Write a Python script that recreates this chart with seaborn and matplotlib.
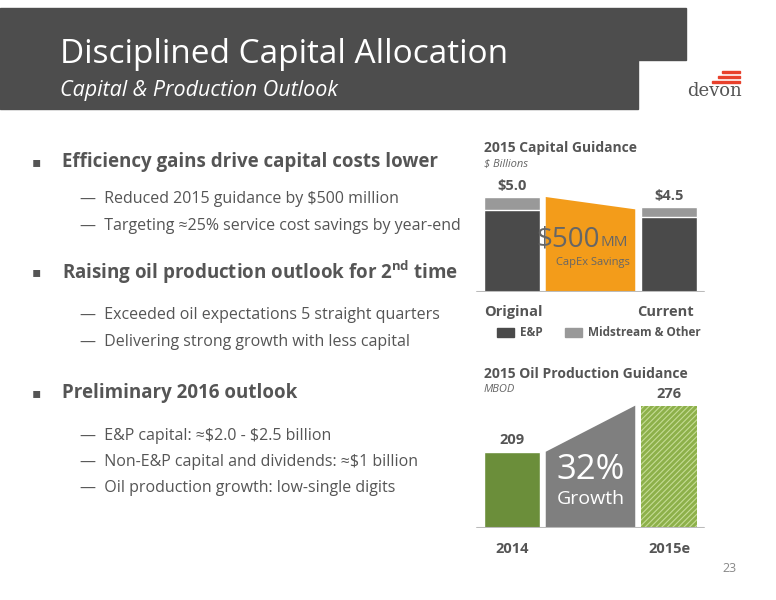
import matplotlib
matplotlib.use("Agg")
import matplotlib.pyplot as plt
import seaborn as sns
import pandas as pd
from matplotlib.patches import Rectangle, Polygon

sns.set_theme(style="white")
plt.rcParams['font.family'] = ['Open Sans', 'DejaVu Sans']
plt.rcParams['hatch.linewidth'] = 0.8

# Data
cap_cats = ["Original", "Current"]
cap_ep = [4.3, 3.95]
cap_mid = [0.7, 0.55]
cap_labels = ["$5.0", "$4.5"]
prod_cats = ["2014", "2015e"]
prod_vals = [209, 276]

DARK = "#4d4d4d"
W, H = 776, 600
fig = plt.figure(figsize=(7.76, 6.0), dpi=100)

def fx(px): return px / W
def fy(py): return 1 - py / H

# Header band
fig.patches.append(Rectangle((0, fy(60)), fx(686), fy(8) - fy(60), transform=fig.transFigure, color=DARK, zorder=0))
fig.patches.append(Rectangle((0, fy(109)), fx(638), fy(60) - fy(109), transform=fig.transFigure, color=DARK, zorder=0))
fig.text(fx(60), fy(63), "Disciplined Capital Allocation", color="white", fontsize=24, va="baseline")
fig.text(fx(60), fy(96), "Capital & Production Outlook", color="white", fontsize=15.5, style="italic", va="baseline")
# logo
fig.text(fx(714), fy(96), "devon", color="#555555", fontsize=13, family="DejaVu Serif", ha="center", va="baseline")
for (y0, x0) in [(71, 722), (76, 718), (81, 712)]:
    fig.patches.append(Rectangle((fx(x0), fy(y0 + 2)), fx(740 - x0), fy(y0) - fy(y0 + 2), transform=fig.transFigure, color="#e8412c"))

# Bullets
TXT = "#555555"
def bullet(y, s):
    fig.text(fx(32), fy(y), "▪", color=TXT, fontsize=10, va="center", family="DejaVu Sans")
    fig.text(fx(62), fy(y), s, color=TXT, fontsize=13.5, fontweight="bold", va="center")
def sub(y, s):
    fig.text(fx(80), fy(y), "—  " + s, color=TXT, fontsize=11.5, va="center")
bullet(162, "Efficiency gains drive capital costs lower")
sub(199, "Reduced 2015 guidance by \\$500 million")
sub(226, "Targeting ≈25% service cost savings by year-end")
bullet(272, r"Raising oil production outlook for 2$^{\mathregular{nd}}$ time")
sub(315, "Exceeded oil expectations 5 straight quarters")
sub(342, "Delivering strong growth with less capital")
bullet(393, "Preliminary 2016 outlook")
sub(436, "E&P capital: ≈\\$2.0 - \\$2.5 billion")
sub(462, "Non-E&P capital and dividends: ≈\\$1 billion")
sub(488, "Oil production growth: low-single digits")
fig.text(fx(737), fy(568), "23", color="#888888", fontsize=9, ha="right", va="center")

# Capital chart
unit = 78.5
left = 512 - 0.5 * unit
ax1 = fig.add_axes([fx(left), fy(292), fx(3 * unit), fy(187.5) - fy(292)])
df1 = pd.DataFrame({"cat": ["Original", "gap", "Current"],
                    "tot": [cap_ep[0] + cap_mid[0], 0, cap_ep[1] + cap_mid[1]],
                    "ep": [cap_ep[0], 0, cap_ep[1]]})
sns.barplot(data=df1, x="cat", y="tot", color="#999999", width=0.71, ax=ax1, saturation=1)
sns.barplot(data=df1, x="cat", y="ep", color="#4a4a4a", width=0.71, ax=ax1, saturation=1)
t0, t1 = df1.tot[0], df1.tot[2]
ax1.add_patch(Polygon([(0.43, 0), (0.43, t0), (1.57, t1 - 0.15), (1.57, 0)], color="#f39c1a", lw=0))
ax1.text(1.12, 2.75, "\\$500", color="#666666", fontsize=20, ha="right", va="center")
ax1.text(1.13, 2.6, "MM", color="#666666", fontsize=11, ha="left", va="center")
ax1.text(1.03, 1.55, "CapEx Savings", color="#666666", fontsize=8, ha="center", va="center")
for i, lab in zip([0, 2], cap_labels):
    ax1.text(i, df1.tot[i] + 0.2, lab, ha="center", va="bottom", color="#555555", fontsize=10.5, fontweight="bold")
ax1.set_xlim(-0.5, 2.5); ax1.set_ylim(0, 5.5)
ax1.axhline(0, color="#bbbbbb", lw=1.5, xmin=0.02, xmax=0.98)
ax1.axis("off")
fig.text(fx(484), fy(148), "2015 Capital Guidance", color="#555555", fontsize=10, fontweight="bold", va="center")
fig.text(fx(484), fy(164), "\\$ Billions", color="#666666", fontsize=8, style="italic", va="center")
fig.text(fx(484), fy(312), "Original", color="#555555", fontsize=10.5, fontweight="bold", va="center")
fig.text(fx(694), fy(312), "Current", color="#555555", fontsize=10.5, fontweight="bold", va="center", ha="right")
fig.patches.append(Rectangle((fx(497), fy(337)), fx(17), fy(328) - fy(337), transform=fig.transFigure, color="#4a4a4a"))
fig.text(fx(520), fy(332), "E&P", color="#555555", fontsize=8.5, fontweight="bold", va="center")
fig.patches.append(Rectangle((fx(565), fy(337)), fx(17), fy(328) - fy(337), transform=fig.transFigure, color="#999999"))
fig.text(fx(588), fy(332), "Midstream & Other", color="#555555", fontsize=8.5, fontweight="bold", va="center")

# Production chart
ax2 = fig.add_axes([fx(left), fy(528), fx(3 * unit), fy(396) - fy(528)])
df2 = pd.DataFrame({"cat": ["2014", "gap", "2015e"], "v": [prod_vals[0], 0, prod_vals[1]]})
sns.barplot(data=df2, x="cat", y="v", color="#6b8e3a", width=0.71, ax=ax2, saturation=1)
bars = ax2.patches
bars[2].set_facecolor("#8db04a"); bars[2].set_hatch("//////"); bars[2].set_edgecolor("#c5dc95"); bars[2].set_linewidth(0)
ax2.add_patch(Polygon([(0.43, 98), (0.43, prod_vals[0]), (1.57, prod_vals[1]), (1.57, 98)], color="#7f7f7f", lw=0))
ax2.text(1.0, 183, "32%", color="white", fontsize=25, ha="center", va="center")
ax2.text(1.0, 141, "Growth", color="white", fontsize=14, ha="center", va="center")
for i in [0, 2]:
    ax2.text(i, df2.v[i] + 7, str(df2.v[i]), ha="center", va="bottom", color="#555555", fontsize=10.5, fontweight="bold")
ax2.set_xlim(-0.5, 2.5); ax2.set_ylim(98.2, 290)
ax2.axhline(98.2, color="#bbbbbb", lw=1.5, xmin=0.02, xmax=0.98)
ax2.axis("off")
fig.text(fx(484), fy(374), "2015 Oil Production Guidance", color="#555555", fontsize=10, fontweight="bold", va="center")
fig.text(fx(484), fy(390), "MBOD", color="#666666", fontsize=8, style="italic", va="center")
fig.text(fx(512), fy(549), "2014", color="#555555", fontsize=10.5, fontweight="bold", va="center", ha="center")
fig.text(fx(669), fy(549), "2015e", color="#555555", fontsize=10.5, fontweight="bold", va="center", ha="center")

fig.savefig("out.png", dpi=100)
